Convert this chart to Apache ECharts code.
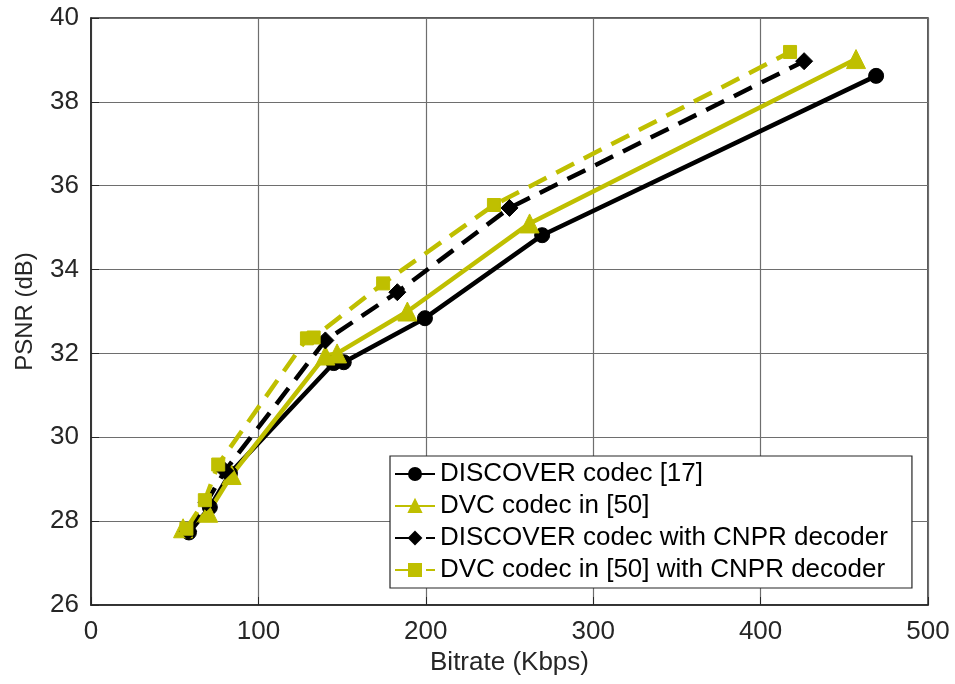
<!DOCTYPE html>
<html>
<head>
<meta charset="utf-8">
<script src="https://cdn.jsdelivr.net/npm/echarts@6/dist/echarts.min.js"></script>
<style>
  html, body { margin: 0; padding: 0; background: #fff; }
  #main { width: 955px; height: 684px; }
</style>
</head>
<body>
<div id="main"></div>
<script>
// values: bitrate (Kbps) and PSNR (dB)
const discoverX = [58.5, 71, 83, 145, 151, 199.5, 269.5, 469];
const discoverY = [27.73, 28.33, 29.14, 31.77, 31.79, 32.84, 34.82, 38.62];

const dvcX = [55, 70, 84, 140, 147, 189, 262, 457];
const dvcY = [27.83, 28.2, 29.1, 31.95, 32.0, 33.0, 35.1, 39.02];

const discoverCnprX = [58, 69, 80, 140, 183, 250, 426];
const discoverCnprY = [27.76, 28.45, 29.2, 32.31, 33.46, 35.47, 38.97];

const dvcCnprX = [57, 68, 76, 129, 133, 174.5, 240.7, 417.6];
const dvcCnprY = [27.82, 28.5, 29.35, 32.36, 32.38, 33.67, 35.54, 39.19];

const seriesNames = [
  'DISCOVER codec [17]',
  'DVC codec in [50]',
  'DISCOVER codec with CNPR decoder',
  'DVC codec in [50] with CNPR decoder'
];

const BLACK = '#000000';
const YELLOW = '#bfbf00';
const FONT = '"Liberation Sans", Arial, sans-serif';

function pairs(xs, ys) {
  return xs.map((x, i) => [x, ys[i]]);
}

const chart = echarts.init(document.getElementById('main'));

function makeSeries(name, xs, ys, color, symbol, size, dashed) {
  return {
    name: name,
    type: 'line',
    data: pairs(xs, ys),
    symbol: symbol,
    symbolSize: size,
    showAllSymbol: true,
    animation: false,
    lineStyle: { color: color, width: 4.5, type: dashed ? [20, 11] : 'solid' },
    itemStyle: { color: color, borderColor: color, borderWidth: 1 },
    emphasis: { disabled: true }
  };
}

const option = {
  backgroundColor: '#ffffff',
  animation: false,
  grid: { left: 91, right: 27, top: 18, bottom: 79, show: true, borderColor: '#262626', borderWidth: 1.5 },
  legend: {
    orient: 'vertical',
    left: 390,
    top: 456,
    itemWidth: 40,
    itemHeight: 15,
    itemGap: 6,
    padding: [5, 24, 5, 4],
    borderColor: '#262626',
    borderWidth: 1.2,
    backgroundColor: '#ffffff',
    textStyle: { fontFamily: FONT, fontSize: 26, color: '#000' },
    data: seriesNames
  },
  xAxis: {
    type: 'value',
    min: 0, max: 500, interval: 100,
    name: 'Bitrate (Kbps)',
    nameLocation: 'middle',
    nameGap: 45,
    nameTextStyle: { fontFamily: FONT, fontSize: 26, color: '#262626' },
    axisLine: { show: true, lineStyle: { color: '#262626', width: 1.5 } },
    axisTick: { show: true, inside: true, length: 8, lineStyle: { color: '#262626' } },
    axisLabel: { fontFamily: FONT, fontSize: 26, color: '#262626', margin: 14 },
    splitLine: { show: true, lineStyle: { color: '#6e6e6e', width: 1.2 } }
  },
  yAxis: {
    type: 'value',
    min: 26, max: 40, interval: 2,
    name: 'PSNR (dB)',
    nameLocation: 'middle',
    nameGap: 54,
    nameTextStyle: { fontFamily: FONT, fontSize: 24, color: '#262626' },
    axisLine: { show: true, lineStyle: { color: '#262626', width: 1.5 } },
    axisTick: { show: true, inside: true, length: 8, lineStyle: { color: '#262626' } },
    axisLabel: { fontFamily: FONT, fontSize: 26, color: '#262626', margin: 12 },
    splitLine: { show: true, lineStyle: { color: '#6e6e6e', width: 1.2 } }
  },
  series: [
    makeSeries(seriesNames[0], discoverX, discoverY, BLACK, 'circle', 15, false),
    makeSeries(seriesNames[1], dvcX, dvcY, YELLOW, 'triangle', 19, false),
    makeSeries(seriesNames[2], discoverCnprX, discoverCnprY, BLACK, 'diamond', 17, true),
    makeSeries(seriesNames[3], dvcCnprX, dvcCnprY, YELLOW, 'rect', 13, true)
  ]
};

chart.setOption(option);
</script>
</body>
</html>
